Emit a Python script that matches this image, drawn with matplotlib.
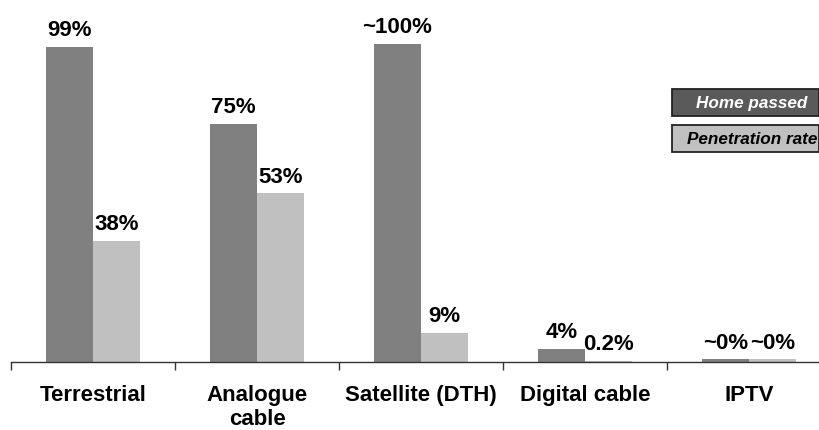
import matplotlib
matplotlib.use("Agg")
import matplotlib.pyplot as plt
from matplotlib.patches import Rectangle
import numpy as np

categories = ["Terrestrial", "Analogue\ncable", "Satellite (DTH)", "Digital cable", "IPTV"]
home_passed = [99, 75, 100, 4, 0.8]
penetration = [38, 53, 9, 0.2, 0.8]
home_labels = ["99%", "75%", "~100%", "4%", "~0%"]
pen_labels = ["38%", "53%", "9%", "0.2%", "~0%"]
legend_names = ["Home passed", "Penetration rate"]

DARK = "#808080"
LIGHT = "#c0c0c0"
LEGEND_DARK = "#5a5a5a"

W, H = 820, 431
fig = plt.figure(figsize=(W / 100, H / 100), dpi=100)
plt.rcParams["font.family"] = ["Liberation Sans", "DejaVu Sans"]

# axes: baseline at y=363 px, categories 164 px wide starting at x=11
left_px, base_px, cat_px = 11, 363, 164
ymax = 110
px_per_unit = 3.18
ax_h = ymax * px_per_unit
ax = fig.add_axes([left_px / W, (H - base_px) / H, 5 * cat_px / W, ax_h / H])
ax.set_xlim(-0.5, 4.5)
ax.set_ylim(0, ymax)

x = np.arange(len(categories))
bw = 47 / cat_px
ax.bar(x - bw / 2, home_passed, width=bw, color=DARK, linewidth=0)
ax.bar(x + bw / 2, penetration, width=bw, color=LIGHT, linewidth=0)

lab_kw = dict(ha="center", va="bottom", fontsize=16, fontweight="bold", color="black")
for xi, v, t in zip(x, home_passed, home_labels):
    ax.annotate(t, (xi - bw / 2, v), xytext=(0, 5), textcoords="offset points", **lab_kw)
for xi, v, t in zip(x, penetration, pen_labels):
    ax.annotate(t, (xi + bw / 2, v), xytext=(0, 5), textcoords="offset points", **lab_kw)

for s in ["top", "right", "left"]:
    ax.spines[s].set_visible(False)
ax.spines["bottom"].set_linewidth(1.0)
ax.spines["bottom"].set_color("#333333")
ax.set_yticks([])

# ticks between categories
ax.set_xticks(np.arange(-0.5, 5.0, 1.0))
ax.set_xticklabels([])
ax.tick_params(axis="x", direction="out", length=6, width=1.0, color="#333333")
ax.set_xticks(x, minor=True)
ax.set_xticklabels(categories, minor=True, fontsize=16, fontweight="bold",
                   linespacing=1.15, va="top")
ax.tick_params(axis="x", which="minor", length=0, pad=16)

# legend boxes with text inside
box_specs = [(90, 117, LEGEND_DARK, "white"), (126, 153, LIGHT, "black")]
for (top, bot, fc, tc), name in zip(box_specs, legend_names):
    x0, x1 = 672, 819
    r = Rectangle((x0 / W, 1 - bot / H), (x1 - x0) / W, (bot - top) / H,
                  transform=fig.transFigure, facecolor=fc, edgecolor="#222222",
                  linewidth=1.3)
    fig.patches.append(r)
    fig.text(752 / W, 1 - (top + bot) / 2 / H, name, ha="center", va="center",
             fontsize=12.3, fontweight="bold", fontstyle="italic", color=tc)

fig.savefig("out.png", dpi=100)
